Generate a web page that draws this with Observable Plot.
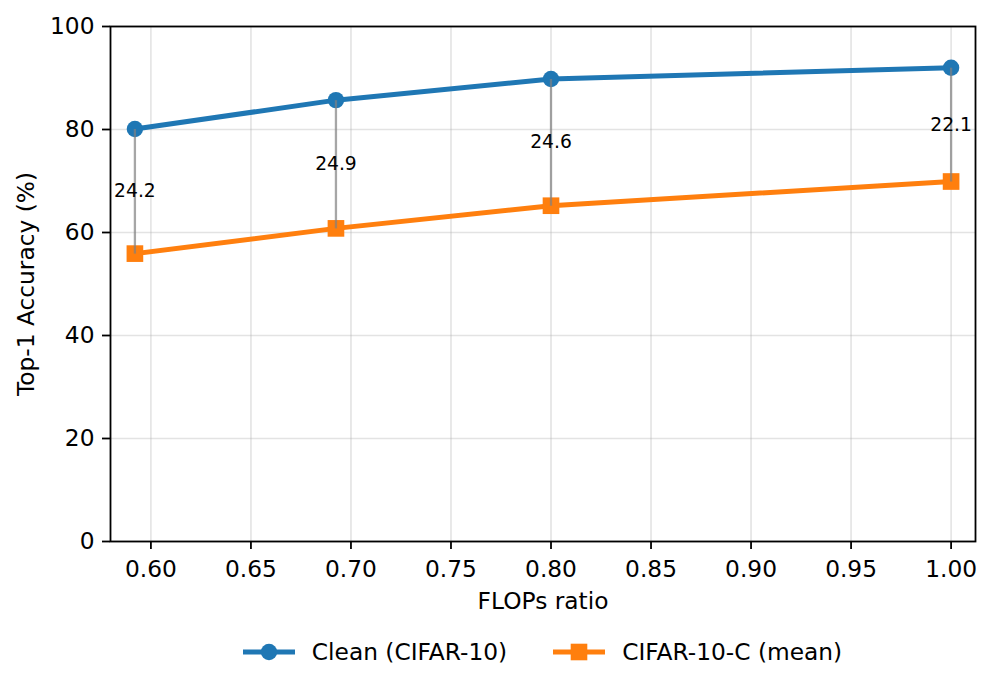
<!DOCTYPE html>
<html><head><meta charset="utf-8">
<script src="https://cdn.jsdelivr.net/npm/d3@7"></script>
<script src="https://cdn.jsdelivr.net/npm/@observablehq/plot@0.6"></script>
<style>
body{margin:0;background:#fff;font-family:"DejaVu Sans",sans-serif;}
#legend{width:996px;height:69px;box-sizing:border-box;padding-left:110px;padding-right:21px;display:flex;justify-content:center;align-items:flex-start;}
.item{display:flex;align-items:center;margin-top:18px;font-size:23.3px;color:#000;}
.item + .item{margin-left:46px;}
.item svg{margin-right:17px;}
</style></head><body><div id="chart"></div><div id="legend"></div>
<script>
const flops = [0.592, 0.6925, 0.80, 1.00];
const clean = [80.1, 85.7, 89.8, 92.0];
const corrupt = [55.9, 60.8, 65.2, 69.9];
const gapLabels = ["24.2", "24.9", "24.6", "22.1"];
const xTicks = [0.60, 0.65, 0.70, 0.75, 0.80, 0.85, 0.90, 0.95, 1.00];
const yTicks = [0, 20, 40, 60, 80, 100];
const seriesNames = ["Clean (CIFAR-10)", "CIFAR-10-C (mean)"];
const colors = ["#1f77b4", "#ff7f0e"];

const rows = flops.map((f, i) => ({flops: f, clean: clean[i], corrupt: corrupt[i], gap: gapLabels[i]}));

const chart = Plot.plot({
  width: 996, height: 620,
  marginLeft: 110, marginRight: 21, marginTop: 26, marginBottom: 79,
  style: {fontFamily: "DejaVu Sans", fontSize: "23.3px", color: "black", background: "white"},
  x: {domain: [0.5798, 1.0122]},
  y: {domain: [0, 100]},
  marks: [
    Plot.gridX(xTicks, {stroke: "#b0b0b0", strokeOpacity: 0.35, strokeWidth: 1.6}),
    Plot.gridY(yTicks, {stroke: "#b0b0b0", strokeOpacity: 0.35, strokeWidth: 1.6}),
    Plot.line(rows, {x: "flops", y: "clean", stroke: colors[0], strokeWidth: 5}),
    Plot.line(rows, {x: "flops", y: "corrupt", stroke: colors[1], strokeWidth: 5}),
    Plot.dot(rows, {x: "flops", y: "clean", r: 8.2, fill: colors[0], symbol: "circle"}),
    Plot.dot(rows, {x: "flops", y: "corrupt", r: 9.4, fill: colors[1], symbol: "square"}),
    Plot.link(rows, {x1: "flops", x2: "flops", y1: "corrupt", y2: "clean", stroke: "gray", strokeOpacity: 0.7, strokeWidth: 2.3}),
    Plot.text(rows, {x: "flops", y: d => (d.clean + d.corrupt) / 2, text: "gap", fontSize: 18.7, fill: "black"}),
    Plot.axisX({ticks: xTicks, tickFormat: d3.format(".2f"), tickSize: 8, tickPadding: 11, strokeWidth: 1.8,
      label: "FLOPs ratio", labelAnchor: "center", labelOffset: 67, labelArrow: "none"}),
    Plot.axisY({ticks: yTicks, tickSize: 8, tickPadding: 8, strokeWidth: 1.8,
      label: "Top-1 Accuracy (%)", labelAnchor: "center", labelOffset: 93, labelArrow: "none"}),
    Plot.frame({stroke: "black", strokeWidth: 1.8})
  ]
});
document.getElementById("chart").append(chart);

const legend = document.getElementById("legend");
seriesNames.forEach((name, i) => {
  const item = document.createElement("div");
  item.className = "item";
  const marker = i === 0
    ? `<circle cx="26" cy="12" r="8.2" fill="${colors[i]}"/>`
    : `<rect x="17.7" y="3.7" width="16.6" height="16.6" fill="${colors[i]}"/>`;
  item.innerHTML = `<svg width="52" height="24"><line x1="0" x2="52" y1="12" y2="12" stroke="${colors[i]}" stroke-width="5"/>${marker}</svg><span>${name}</span>`;
  legend.append(item);
});
</script></body></html>
